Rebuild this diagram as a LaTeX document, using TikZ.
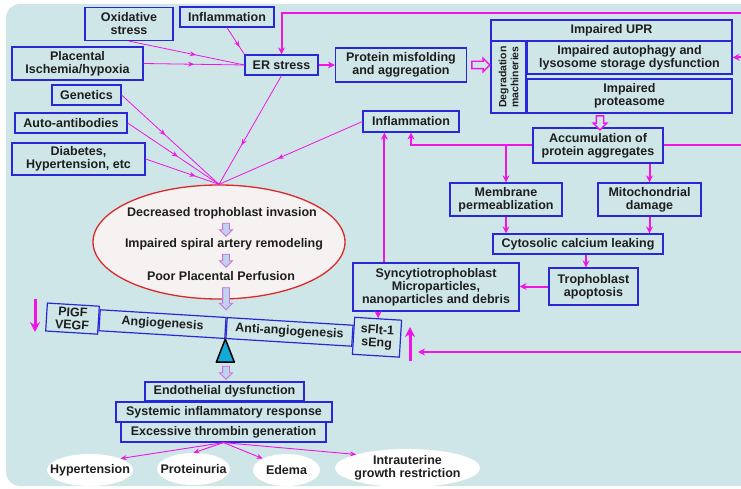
\documentclass[tikz,border=0pt]{standalone}
\usepackage{fontspec}
\setmainfont{Liberation Sans}
\usetikzlibrary{arrows.meta,shapes.geometric,shapes.arrows,decorations.markings}

\definecolor{bgblue}{RGB}{207,230,233}
\definecolor{boxblue}{RGB}{40,40,215}
\definecolor{linkpink}{RGB}{240,20,230}
\definecolor{ovalred}{RGB}{220,40,40}
\definecolor{ovalfill}{RGB}{246,242,242}
\definecolor{softblue}{RGB}{190,212,236}
\definecolor{softpink}{RGB}{205,110,220}
\definecolor{pivotcyan}{RGB}{20,170,215}
\definecolor{inktext}{RGB}{30,30,30}

\begin{document}
\begin{tikzpicture}[x=1pt,y=-1pt,
    every node/.style={font=\fontsize{12.5}{13}\selectfont\bfseries, text=inktext},
    box/.style={draw=boxblue, line width=1.2pt, fill=bgblue, align=center, inner sep=1pt},
    beam/.style={box, rotate=-3.5, minimum width=126pt, minimum height=21pt},
    oval/.style={ellipse, fill=white, inner sep=0pt},
    thinlink/.style={linkpink, line width=0.8pt, postaction={decorate},
      decoration={markings, mark=at position #1 with {\arrow{Stealth[length=6pt,width=5pt]}}}},
    thinlink/.default=0.55,
    endlink/.style={linkpink, line width=0.9pt, -{Stealth[length=6pt,width=5pt]}},
    thicklink/.style={linkpink, line width=2pt, -{Stealth[length=7pt,width=7pt]}},
    heavylink/.style={linkpink, line width=3pt, -{Stealth[length=10pt,width=10pt]}},
    hollow/.style={single arrow, draw=linkpink, line width=1.4pt, fill=bgblue, inner sep=3pt,
      single arrow head extend=3pt, minimum height=#1},
    soft/.style={single arrow, draw=softpink, line width=0.9pt, fill=softblue, inner sep=3pt,
      single arrow head extend=3pt, rotate=-90, minimum height=#1}]

  \useasboundingbox (0,0) rectangle (741,489);
  \fill[bgblue, rounded corners=14pt] (6,4) rectangle (770,486);

  % causes
  \node[box, minimum width=88pt, minimum height=33pt] (oxid) at (129,24) {Oxidative\\stress};
  \node[box, minimum width=94pt, minimum height=20pt] (inflA) at (227,17) {Inflammation};
  \node[box, minimum width=131pt, minimum height=33pt] (plac) at (77.5,63.5) {Placental\\Ischemia/hypoxia};
  \node[box, minimum width=69pt, minimum height=20pt] (gene) at (86.5,95) {Genetics};
  \node[box, minimum width=112pt, minimum height=20pt] (autoab) at (71,123) {Auto-antibodies};
  \node[box, minimum width=133pt, minimum height=32pt] (diab) at (78.5,159) {Diabetes,\\Hypertension, etc};

  % ER stress and degradation
  \node[box, minimum width=73pt, minimum height=20pt] (er) at (281.5,65) {ER stress};
  \node[box, minimum width=131pt, minimum height=34pt] (misfold) at (401,65) {Protein misfolding\\and aggregation};
  \node[box, minimum width=241pt, minimum height=21pt] (upr) at (611.5,30.5) {Impaired UPR};
  \node[box, rotate=90, minimum width=72pt, minimum height=35pt, font=\fontsize{10.5}{12}\selectfont\bfseries]
    (degr) at (508.5,77) {Degradation\\machineries};
  \node[box, minimum width=205pt, minimum height=33pt] (autoph) at (629.5,57.5) {Impaired autophagy and\\lysosome storage dysfunction};
  \node[box, minimum width=205pt, minimum height=34pt] (protea) at (629.5,96) {Impaired\\proteasome};
  \node[box, minimum width=96pt, minimum height=21pt] (inflB) at (411,121.5) {Inflammation};
  \node[box, minimum width=130pt, minimum height=35pt] (accum) at (598,145.5) {Accumulation of\\protein aggregates};
  \node[box, minimum width=112pt, minimum height=33pt] (memb) at (506,199.5) {Membrane\\permeablization};
  \node[box, minimum width=103pt, minimum height=33pt] (mito) at (649.5,199.5) {Mitochondrial\\damage};
  \node[box, minimum width=170pt, minimum height=20pt] (cyto) at (578,244) {Cytosolic calcium leaking};
  \node[box, minimum width=89pt, minimum height=37pt] (apop) at (593.5,286.5) {Trophoblast\\apoptosis};
  \node[box, minimum width=166pt, minimum height=48pt] (sync) at (436,287) {Syncytiotrophoblast\\Microparticles,\\nanoparticles and debris};

  % placenta oval
  \node[ellipse, draw=ovalred, line width=1.3pt, fill=ovalfill, minimum width=252pt, minimum height=114pt] (oval) at (219,242) {};
  \node (invas) at (222,213) {Decreased trophoblast invasion};
  \node (spiral) at (224,244) {Impaired spiral artery remodeling};
  \node (perfus) at (221,276) {Poor Placental Perfusion};
  \node[soft=13pt] (s1) at (226,228) {};
  \node[soft=13pt] (s2) at (226,259) {};
  \node[soft=22pt] (s3) at (226,297) {};

  % balance
  \coordinate (pivot) at (226,328);
  \node[beam, anchor=east] (angio) at (pivot) {Angiogenesis};
  \node[beam, anchor=west] (antiang) at (pivot) {Anti-angiogenesis};
  \node[box, rotate=-3.5, anchor=east, minimum width=52pt, minimum height=28pt] (pigf) at (angio.west) {PIGF\\VEGF};
  \node[box, rotate=-3.5, anchor=west, minimum width=47pt, minimum height=37pt] (sflt) at (antiang.east) {sFlt-1\\sEng};
  \filldraw[fill=pivotcyan, draw=black, line width=1.5pt, line join=round]
    (angio.south east) -- ++(-9,23) -- ++(18,0) -- cycle;
  \node[soft=13pt] (s4) at (226,371) {};

  % outcomes
  \node[box, minimum width=159pt, minimum height=19pt] (endo) at (224.5,391.5) {Endothelial dysfunction};
  \node[box, minimum width=216pt, minimum height=20pt] (sysinf) at (224,412) {Systemic inflammatory response};
  \node[box, minimum width=205pt, minimum height=20pt] (thromb) at (223.5,432) {Excessive thrombin generation};
  \node[oval, minimum width=86pt, minimum height=32pt, label={center:Hypertension}] (hyper) at (90,470) {};
  \node[oval, minimum width=73pt, minimum height=32pt, label={center:Proteinuria}] (protu) at (193.5,469) {};
  \node[oval, minimum width=67pt, minimum height=32pt, label={center:Edema}] (edema) at (286.5,470) {};
  \node[oval, minimum width=145pt, minimum height=38pt, label={[align=center]center:Intrauterine\\growth restriction}] (iugr) at (407.5,468) {};

  % free ends at the right edge
  \coordinate (edgeA) at (745,13);
  \coordinate (edgeB) at (745,57);
  \coordinate (edgeC) at (745,145.5);
  \coordinate (edgeD) at (745,352);
  \coordinate (tipD) at (418,352);
  \coordinate (upfoot) at (410,361);
  \coordinate (uptop) at (410,327);
  \coordinate (downtop) at (35,299);
  \coordinate (downfoot) at (35,332);

  % thin links
  \draw[thinlink=0.58] (oxid.south) -- (er.west);
  \draw[thinlink=0.5] (plac.east) -- (er.west);
  \draw[thinlink=0.72] (inflA.south) -- (er.north west);
  \draw[thinlink=0.45] (gene.east) -- (oval.north);
  \draw[thinlink=0.55] (autoab.east) -- (oval.north);
  \draw[thinlink=0.68] (diab.east) -- (oval.north);
  \draw[thinlink=0.64] (er.south) -- (oval.north);
  \draw[thinlink=0.59] (inflB.west) -- (oval.north);

  % thick links
  \draw[thicklink] (edgeA) -| (er.north);
  \draw[thicklink] (er) -- (misfold);
  \node[hollow=18pt] (h1) at (479,65) {};
  \draw[thicklink] (edgeB) -- (autoph.east);
  \node[hollow=14pt, rotate=-90] (h2) at (600,121) {};
  \draw[linkpink, line width=2pt] (accum.east) -- (edgeC);
  \draw[thicklink] (accum.west) -| (inflB.south);
  \draw[thicklink] (memb.north |- accum.west) -- (memb.north);
  \draw[thicklink] (mito.north |- accum.south) -- (mito.north);
  \draw[thicklink] (memb.south) -- (memb.south |- cyto.north);
  \draw[thicklink] (mito.south) -- (mito.south |- cyto.north);
  \draw[thicklink] ([xshift=8pt]cyto.south) -- ([xshift=8pt]cyto.south |- apop.north);
  \draw[thicklink] (apop.west) -- (apop.west -| sync.east);
  \draw[thicklink] ([xshift=32pt]sync.north west) -- ([xshift=32pt]sync.north west |- inflB.south);
  \draw[thicklink] (sync.south -| sflt.north) -- (sflt.north);
  \draw[thicklink] (edgeD) -- (tipD);
  \draw[heavylink] (upfoot) -- (uptop);
  \draw[heavylink] (downtop) -- (downfoot);

  % outcome links
  \draw[endlink] (thromb.south) -- (hyper.north east);
  \draw[endlink] (thromb.south) -- (protu.north);
  \draw[endlink] (thromb.south) -- (edema.north west);
  \draw[endlink] (thromb.south) -- (iugr.north west);
\end{tikzpicture}
\end{document}
